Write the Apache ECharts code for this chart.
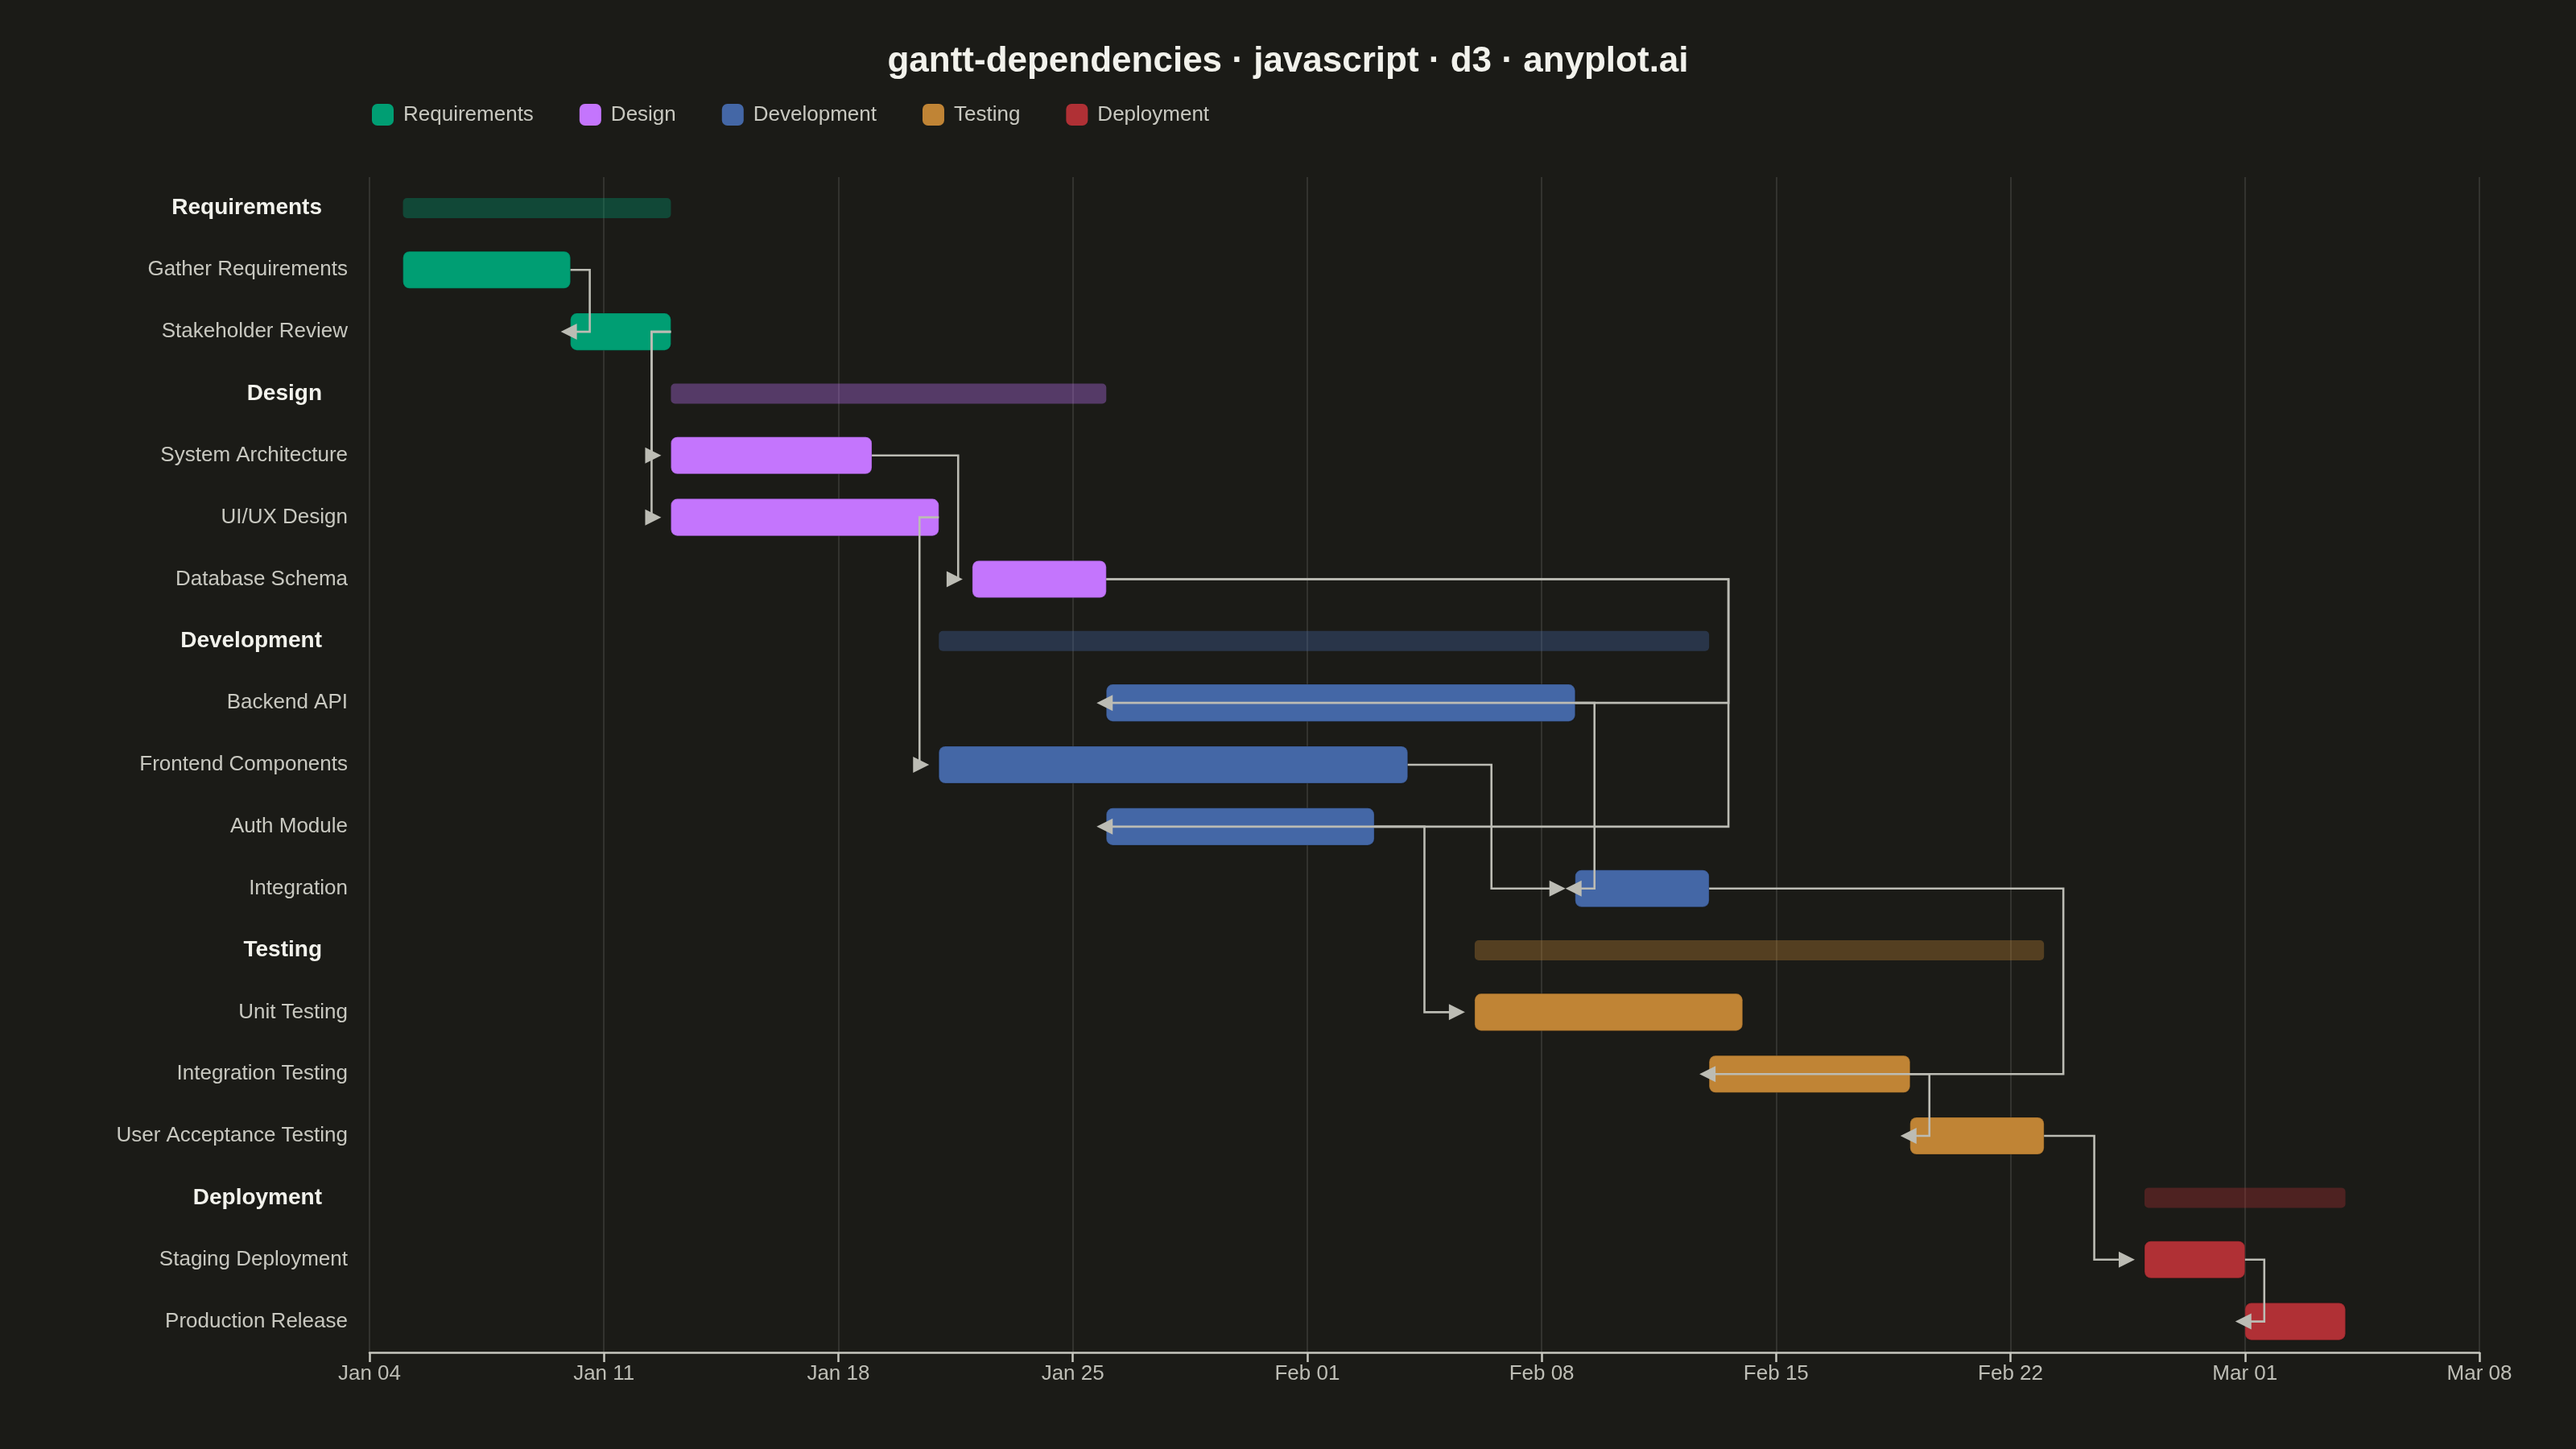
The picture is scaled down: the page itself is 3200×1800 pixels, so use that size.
<!DOCTYPE html>
<html>
<head>
<meta charset="utf-8">
<title>gantt-dependencies</title>
<script src="https://cdn.jsdelivr.net/npm/echarts@6/dist/echarts.min.js"></script>
<style>
  html, body { margin: 0; padding: 0; background: #1b1b17; }
  #chart { width: 3200px; height: 1800px; }
</style>
</head>
<body>
<div id="chart"></div>
<script>
// phases and their colours
var phases = ['Requirements', 'Design', 'Development', 'Testing', 'Deployment'];
var phaseColors = ['#009E73', '#C475FD', '#4467A6', '#C08435', '#B03035'];

// tasks (dates are inclusive start / end as drawn)
var taskNames = ['Gather Requirements', 'Stakeholder Review',
  'System Architecture', 'UI/UX Design', 'Database Schema',
  'Backend API', 'Frontend Components', 'Auth Module', 'Integration',
  'Unit Testing', 'Integration Testing', 'User Acceptance Testing',
  'Staging Deployment', 'Production Release'];
var taskPhase = [0, 0, 1, 1, 1, 2, 2, 2, 2, 3, 3, 3, 4, 4];
var taskStart = ['2026-01-05', '2026-01-10', '2026-01-13', '2026-01-13', '2026-01-22',
  '2026-01-26', '2026-01-21', '2026-01-26', '2026-02-09',
  '2026-02-06', '2026-02-13', '2026-02-19', '2026-02-26', '2026-03-01'];
var taskEnd = ['2026-01-10', '2026-01-13', '2026-01-19', '2026-01-21', '2026-01-26',
  '2026-02-09', '2026-02-04', '2026-02-03', '2026-02-13',
  '2026-02-14', '2026-02-19', '2026-02-23', '2026-03-01', '2026-03-04'];

// finish-to-start dependencies [from, to]
var depFrom = ['Gather Requirements', 'Stakeholder Review', 'Stakeholder Review', 'System Architecture',
  'UI/UX Design', 'Database Schema', 'Database Schema', 'Backend API', 'Frontend Components',
  'Auth Module', 'Integration', 'Integration Testing', 'User Acceptance Testing', 'Staging Deployment'];
var depTo = ['Stakeholder Review', 'System Architecture', 'UI/UX Design', 'Database Schema',
  'Frontend Components', 'Backend API', 'Auth Module', 'Integration', 'Integration',
  'Unit Testing', 'Integration Testing', 'User Acceptance Testing', 'Staging Deployment', 'Production Release'];

// x axis: weekly ticks from Jan 04 to Mar 08
var axisStart = '2026-01-04';
var axisDays = 63;
var tickStep = 7;
var monthNames = ['Jan', 'Feb', 'Mar', 'Apr', 'May', 'Jun', 'Jul', 'Aug', 'Sep', 'Oct', 'Nov', 'Dec'];

var DAY = 86400000;
var t0 = Date.parse(axisStart);
function dayOf(s) { return Math.round((Date.parse(s) - t0) / DAY); }

// build rows: a summary row per phase followed by its tasks
var rowNames = [], rowPhase = [], rowGroup = [], rowStart = [], rowEnd = [];
var rowOfTask = {};
phases.forEach(function (ph, p) {
  var s = Infinity, e = -Infinity;
  taskPhase.forEach(function (tp, i) {
    if (tp === p) {
      s = Math.min(s, dayOf(taskStart[i]));
      e = Math.max(e, dayOf(taskEnd[i]));
    }
  });
  rowNames.push(ph); rowPhase.push(p); rowGroup.push(1); rowStart.push(s); rowEnd.push(e);
  taskPhase.forEach(function (tp, i) {
    if (tp === p) {
      rowOfTask[taskNames[i]] = rowNames.length;
      rowNames.push(taskNames[i]); rowPhase.push(p); rowGroup.push(0);
      rowStart.push(dayOf(taskStart[i])); rowEnd.push(dayOf(taskEnd[i]));
    }
  });
});

var FONT = '"Liberation Sans", Arial, Helvetica, sans-serif';
var chart = echarts.init(document.getElementById('chart'));

// bars
function renderBar(params, api) {
  var row = api.value(0), g = api.value(3);
  var p0 = api.coord([api.value(1), row]);
  var p1 = api.coord([api.value(2), row]);
  var band = api.size([0, 1])[1];
  var h = g ? band * 0.325 : band * 0.6;
  return {
    type: 'rect',
    shape: { x: p0[0], y: p0[1] - h / 2, width: p1[0] - p0[0], height: h, r: g ? 5 : 8 },
    style: { fill: api.visual('color'), opacity: g ? 0.35 : 1, stroke: g ? null : 'rgba(0,0,0,0.18)', lineWidth: g ? 0 : 1.5 }
  };
}

// pick a clear x for the vertical leg of an elbow connector
function routeX(api, x1, x2, r1, r2) {
  var o = 24;
  var spans = [];
  for (var r = r1 + 1; r < r2; r++) {
    spans.push([api.coord([rowStart[r], r])[0], api.coord([rowEnd[r], r])[0]]);
  }
  var hit = function (x) {
    return spans.some(function (s) { return x >= s[0] - 4 && x <= s[1] + 4; });
  };
  var cands = [];
  if (x2 - x1 > 2 * o) cands.push((x1 + x2) / 2);
  cands.push(x1 + o, x1 - o);
  for (var i = 0; i < cands.length; i++) {
    if (!hit(cands[i])) return cands[i];
  }
  var maxEnd = Math.max.apply(null, spans.map(function (s) { return s[1]; }));
  return maxEnd + o;
}

function renderDep(params, api) {
  var r1 = api.value(1), r2 = api.value(3);
  var a = api.coord([api.value(0), r1]);
  var b = api.coord([api.value(2), r2]);
  var midX = routeX(api, a[0], b[0], r1, r2);
  var tip = b[0] - 12;
  var dir = midX < tip ? 1 : -1;
  var col = '#bcbcb4';
  return {
    type: 'group',
    children: [{
      type: 'polyline',
      shape: { points: [[a[0], a[1]], [midX, a[1]], [midX, b[1]], [tip - dir * 16, b[1]]] },
      style: { stroke: col, lineWidth: 2.6, fill: null }
    }, {
      type: 'polygon',
      shape: { points: [[tip, b[1]], [tip - dir * 20, b[1] - 10], [tip - dir * 20, b[1] + 10]] },
      style: { fill: col }
    }]
  };
}

var series = phases.map(function (ph, p) {
  var data = [];
  rowNames.forEach(function (n, r) {
    if (rowPhase[r] === p) data.push([r, rowStart[r], rowEnd[r], rowGroup[r]]);
  });
  return {
    name: ph,
    type: 'custom',
    renderItem: renderBar,
    itemStyle: { color: phaseColors[p] },
    encode: { x: [1, 2], y: 0 },
    data: data,
    z: 2
  };
});

var depData = depFrom.map(function (f, i) {
  var rf = rowOfTask[f], rt = rowOfTask[depTo[i]];
  return [rowEnd[rf], rf, rowStart[rt], rt];
});
series.push({
  name: 'deps',
  type: 'custom',
  renderItem: renderDep,
  encode: { x: [0, 2], y: [1, 3] },
  data: depData,
  silent: true,
  z: 5
});

var option = {
  backgroundColor: '#1b1b17',
  animation: false,
  title: {
    text: 'gantt-dependencies · javascript · d3 · anyplot.ai',
    left: 'center',
    top: 50,
    textStyle: { color: '#f2f2ec', fontSize: 44, fontWeight: 'bold', fontFamily: FONT }
  },
  legend: {
    data: phases,
    left: 457,
    top: 124,
    itemWidth: 27,
    itemHeight: 27,
    itemGap: 57,
    icon: 'roundRect',
    selectedMode: false,
    textStyle: { color: '#c8c8c0', fontSize: 26, fontFamily: FONT, padding: [0, 0, 0, 7] }
  },
  grid: { left: 459, right: 120, top: 220, bottom: 120 },
  xAxis: {
    type: 'value',
    min: 0,
    max: axisDays,
    interval: tickStep,
    axisLine: { show: true, lineStyle: { color: '#c8c8c0', width: 2.5 } },
    axisTick: { show: true, length: 12, lineStyle: { color: '#c8c8c0', width: 2.5 } },
    axisLabel: {
      color: '#bdbdb5', fontSize: 26, fontFamily: FONT, margin: 14,
      formatter: function (v) {
        var d = new Date(t0 + v * DAY);
        var dd = d.getUTCDate();
        return monthNames[d.getUTCMonth()] + ' ' + (dd < 10 ? '0' + dd : dd);
      }
    },
    splitLine: { show: true, lineStyle: { color: '#3a3a36', width: 1.6 } }
  },
  yAxis: {
    type: 'category',
    inverse: true,
    data: rowNames,
    axisLine: { show: false },
    axisTick: { show: false },
    splitLine: { show: false },
    axisLabel: {
      margin: 27,
      color: '#c8c8c0',
      fontSize: 26,
      fontFamily: FONT,
      formatter: function (v, i) {
        return rowGroup[i] ? '{g|' + v + '}' : v;
      },
      rich: {
        g: { color: '#f2f2ec', fontSize: 28, fontWeight: 'bold', fontFamily: FONT, padding: [0, 32, 0, 0] }
      }
    }
  },
  series: series
};

chart.setOption(option);
</script>
</body>
</html>
